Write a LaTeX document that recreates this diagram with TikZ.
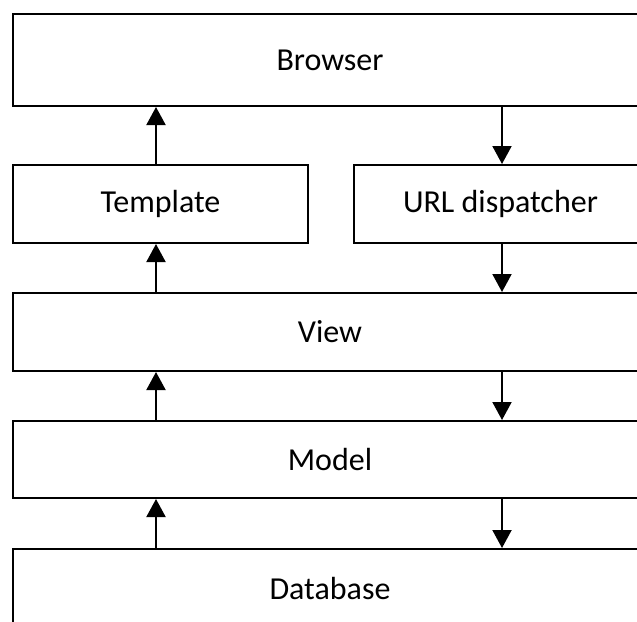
\documentclass[tikz,border=0pt]{standalone}
\usepackage{fontspec}
\setmainfont{Carlito}
\usetikzlibrary{arrows.meta}
\begin{document}
\begin{tikzpicture}[x=1pt,y=-1pt,
  box/.style={draw=black, line width=2pt, rectangle, inner sep=0pt,
    font=\fontsize{32}{38}\selectfont, text=black},
  arr/.style={draw=black, line width=2pt, -{Triangle[length=18pt,width=19pt]}}]
\useasboundingbox (0,0) rectangle (637,621);
\clip (0,0) rectangle (637,621);
\node[box, minimum width=634pt, minimum height=92pt] (browser) at (330,60) {Browser};
\node[box, minimum width=295pt, minimum height=78pt] (template) at (160.5,204) {Template};
\node[box, minimum width=293pt, minimum height=78pt] (url) at (500.5,204) {URL dispatcher};
\node[box, minimum width=634pt, minimum height=78pt] (view) at (330,332) {View};
\node[box, minimum width=634pt, minimum height=77pt] (model) at (330,459.5) {Model};
\node[box, minimum width=634pt, minimum height=78pt] (database) at (330,588) {Database};
\coordinate (L) at (156,0);
\coordinate (R) at (502,0);
% upward arrows
\draw[arr] (template.north -| L) -- (browser.south -| L);
\draw[arr] (view.north -| L) -- (template.south -| L);
\draw[arr] (model.north -| L) -- (view.south -| L);
\draw[arr] (database.north -| L) -- (model.south -| L);
% downward arrows
\draw[arr] (browser.south -| R) -- (url.north -| R);
\draw[arr] (url.south -| R) -- (view.north -| R);
\draw[arr] (view.south -| R) -- (model.north -| R);
\draw[arr] (model.south -| R) -- (database.north -| R);
\end{tikzpicture}
\end{document}
